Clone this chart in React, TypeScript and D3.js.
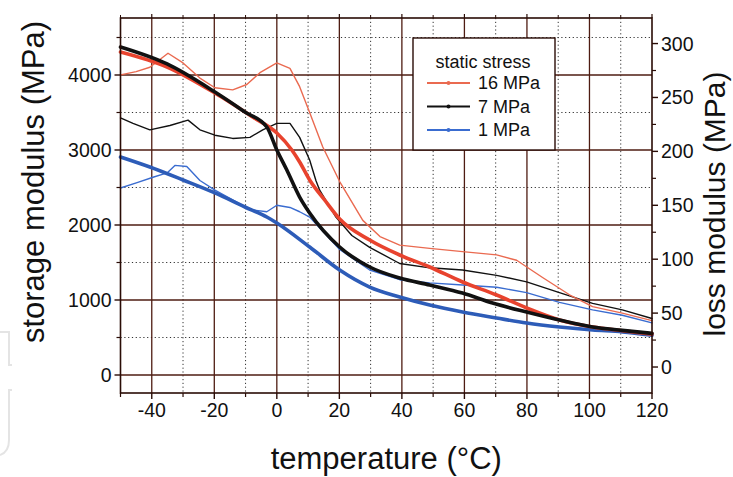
import React from "react";
import * as d3 from "d3";

// ---------- data ----------
const xTicksMajor = [-40, -20, 0, 20, 40, 60, 80, 100, 120];
const xTicksMinor = [-50, -30, -10, 10, 30, 50, 70, 90, 110];
const yLeftMajor = [0, 1000, 2000, 3000, 4000];
const yLeftMinor = [500, 1500, 2500, 3500, 4500];
const yRightMajor = [0, 50, 100, 150, 200, 250, 300];
const yRightMinor = [25, 75, 125, 175, 225, 275];

const legendTitle = "static stress";
const seriesNames = ["16 MPa", "7 MPa", "1 MPa"];

// storage modulus (MPa) — left axis, thick lines
const storage16T = [-50, -35.1, -19.8, -7.7, 0, 4.8, 7.3, 10.5, 15.3, 20.1, 29.7, 39.3, 48.9, 59.4, 70.3, 79.9, 90.4, 101, 110.5, 120];
const storage16 = [4307, 4107, 3760, 3440, 3227, 3000, 2840, 2600, 2333, 2080, 1800, 1600, 1440, 1240, 1067, 893, 733, 640, 590, 545];

const storage7T = [-50, -35.1, -19.8, -10.2, -3.2, 0, 3.2, 7.3, 10.5, 20.1, 29.7, 39.3, 48.9, 59.4, 69, 79.9, 90.4, 101, 110.5, 120];
const storage7 = [4373, 4147, 3773, 3507, 3307, 3000, 2733, 2373, 2160, 1707, 1440, 1293, 1200, 1093, 960, 840, 733, 640, 595, 555];

const storage1T = [-50, -40.6, -30, -19.8, -10.2, -3.2, 0, 10.5, 20.1, 29.7, 39.3, 48.9, 59.4, 70.3, 79.9, 90.4, 101, 110.5, 120];
const storage1 = [2907, 2773, 2600, 2427, 2240, 2107, 2027, 1707, 1400, 1173, 1040, 933, 840, 760, 693, 640, 600, 575, 530];

// loss modulus (MPa) — right axis, thin lines
const loss16T = [-50, -45, -40.6, -34.8, -30, -24.6, -19.8, -14.1, -9.6, -5.4, 0, 4.2, 7.3, 10.5, 14.7, 20.1, 27.5, 33, 39.3, 48.9, 59.4, 70.3, 76.7, 85, 93.6, 101, 110.5, 120];
const loss16 = [271, 274, 278, 291, 282, 268, 259, 257, 262, 273, 282, 277, 260, 236, 204, 172, 136, 121, 113, 110, 107, 104, 99, 83, 67, 56, 50, 43];

const loss7T = [-50, -46, -40.6, -34.2, -28.4, -24.6, -19.8, -14.1, -8.6, -4.5, 0, 4.2, 7.3, 10.5, 12.5, 13.7, 18.9, 24, 29.7, 39.3, 48.9, 59.4, 70.3, 79.9, 90.4, 101, 110.5, 120];
const loss7 = [231, 226, 220, 224, 229, 220, 215, 212, 213, 220, 226, 226, 213, 192, 173, 164, 139, 122, 111, 96, 92, 90, 85, 79, 69, 59, 53, 45];

const loss1T = [-50, -44.7, -39.6, -35.1, -32.6, -28.8, -24.6, -19.8, -14.1, -8.6, -3.2, 0, 4.2, 7.3, 10.5, 20.1, 29.7, 39.3, 48.9, 59.4, 70.3, 79.9, 90.4, 101, 110.5, 120];
const loss1 = [166, 171, 176, 180, 187, 186, 173, 164, 155, 146, 144, 150, 148, 144, 139, 109, 90, 81, 78, 76, 74, 69, 60, 53, 48, 41];

// ---------- styling ----------
const W = 733;
const H = 477;
const FONT = "'Liberation Sans', Arial, Helvetica, sans-serif";
const frameColor = "#2a0c06";
const gridColor = "#4e1c12";
const dotColor = "#333";
const red = "#e8432e";
const redThin = "#ea6a50";
const black = "#111111";
const blue = "#2d5cb8";
const blueThin = "#3a6cd0";

export default function App() {
  const x = d3.scaleLinear().domain([-50, 120]).range([120.5, 652]);
  const yL = d3.scaleLinear().domain([-240, 4760]).range([393, 18]);
  const yR = d3.scaleLinear().domain([-24.1, 323.7]).range([393, 18]);

  const left = x(-50);
  const right = x(120);
  const top = yL(4760);
  const bottom = yL(-240);

  const mk = (ts: number[], vs: number[], ys: d3.ScaleLinear<number, number>, curve: d3.CurveFactory) =>
    d3
      .line<number>()
      .x((_, i) => x(ts[i]))
      .y((v) => ys(v))
      .curve(curve)(vs) as string;

  const thin = [
    { d: mk(loss1T, loss1, yR, d3.curveLinear), c: blueThin },
    { d: mk(loss7T, loss7, yR, d3.curveLinear), c: black },
    { d: mk(loss16T, loss16, yR, d3.curveLinear), c: redThin },
  ];
  const thick = [
    { d: mk(storage1T, storage1, yL, d3.curveMonotoneX), c: blue },
    { d: mk(storage16T, storage16, yL, d3.curveMonotoneX), c: red },
    { d: mk(storage7T, storage7, yL, d3.curveMonotoneX), c: black },
  ];

  const legendColors = [redThin, black, blueThin];

  return (
    <svg
      width={W}
      height={H}
      viewBox={`0 0 ${W} ${H}`}
      style={{ position: "absolute", left: 0, top: 0, background: "#fff" }}
      fontFamily={FONT}
    >
      <rect x={0} y={0} width={W} height={H} fill="#fff" />
      {/* faint watermark brackets */}
      <path d="M0,332 H9 V365 H12" fill="none" stroke="#e4e4e4" strokeWidth={2} />
      <path d="M12,390 H9 V440 Q9,452 0,455" fill="none" stroke="#e4e4e4" strokeWidth={2} />

      {/* grid */}
      {xTicksMinor
        .filter((t) => t > -50)
        .map((t) => (
          <line key={"gxm" + t} x1={x(t)} x2={x(t)} y1={top} y2={bottom} stroke={dotColor} strokeWidth={1} strokeDasharray="1.2,2.6" />
        ))}
      {yLeftMinor.map((v) => (
        <line key={"gym" + v} x1={left} x2={right} y1={yL(v)} y2={yL(v)} stroke={dotColor} strokeWidth={1} strokeDasharray="1.2,2.6" />
      ))}
      {xTicksMajor
        .filter((t) => t < 120)
        .map((t) => (
          <line key={"gx" + t} x1={x(t)} x2={x(t)} y1={top} y2={bottom} stroke={gridColor} strokeWidth={1.3} />
        ))}
      {yLeftMajor.map((v) => (
        <line key={"gy" + v} x1={left} x2={right} y1={yL(v)} y2={yL(v)} stroke={gridColor} strokeWidth={1.3} />
      ))}

      {/* curves */}
      <g fill="none" strokeLinejoin="round" strokeLinecap="round">
        {thin.map((s, i) => (
          <path key={"t" + i} d={s.d} stroke={s.c} strokeWidth={1.4} />
        ))}
        {thick.map((s, i) => (
          <path key={"T" + i} d={s.d} stroke={s.c} strokeWidth={3.6} />
        ))}
      </g>

      {/* frame */}
      <rect x={left} y={top} width={right - left} height={bottom - top} fill="none" stroke={frameColor} strokeWidth={1.6} />

      {/* left axis ticks */}
      {yLeftMajor.map((v) => (
        <g key={"yl" + v}>
          <line x1={left - 6} x2={left} y1={yL(v)} y2={yL(v)} stroke={frameColor} strokeWidth={1.4} />
          <text x={left - 9} y={yL(v)} dy="0.36em" textAnchor="end" fontSize={19.5} fill="#111">
            {v}
          </text>
        </g>
      ))}
      {yLeftMinor.map((v) => (
        <line key={"ylm" + v} x1={left - 4} x2={left} y1={yL(v)} y2={yL(v)} stroke={frameColor} strokeWidth={1.2} />
      ))}

      {/* right axis ticks */}
      {yRightMajor.map((v) => (
        <g key={"yr" + v}>
          <line x1={right} x2={right + 6} y1={yR(v)} y2={yR(v)} stroke={frameColor} strokeWidth={1.4} />
          <text x={right + 9} y={yR(v)} dy="0.36em" textAnchor="start" fontSize={19.5} fill="#111">
            {v}
          </text>
        </g>
      ))}
      {yRightMinor.map((v) => (
        <line key={"yrm" + v} x1={right} x2={right + 4} y1={yR(v)} y2={yR(v)} stroke={frameColor} strokeWidth={1.2} />
      ))}

      {/* bottom / top ticks */}
      {xTicksMajor.map((t) => (
        <g key={"xb" + t}>
          <line x1={x(t)} x2={x(t)} y1={bottom} y2={bottom + 6} stroke={frameColor} strokeWidth={1.4} />
          <line x1={x(t)} x2={x(t)} y1={top} y2={top - 4} stroke={frameColor} strokeWidth={1.2} />
          <text x={x(t)} y={bottom + 24} textAnchor="middle" fontSize={19.5} fill="#111">
            {t}
          </text>
        </g>
      ))}
      {xTicksMinor.map((t) => (
        <g key={"xbm" + t}>
          <line x1={x(t)} x2={x(t)} y1={bottom} y2={bottom + 4} stroke={frameColor} strokeWidth={1.2} />
          <line x1={x(t)} x2={x(t)} y1={top} y2={top - 3} stroke={frameColor} strokeWidth={1} />
        </g>
      ))}

      {/* axis titles */}
      <text x={(left + right) / 2} y={469} textAnchor="middle" fontSize={31} fill="#111">
        temperature (°C)
      </text>
      <text transform="translate(33,182) rotate(-90)" textAnchor="middle" dy="0.35em" fontSize={31} fill="#111">
        storage modulus (MPa)
      </text>
      <text transform="translate(714,204) rotate(-90)" textAnchor="middle" dy="0.35em" fontSize={30} fill="#111">
        loss modulus (MPa)
      </text>

      {/* legend */}
      <g>
        <rect x={413} y={38} width={142} height={112} fill="#fff" stroke={frameColor} strokeWidth={1.4} />
        <text x={483} y={62} dy="0.35em" textAnchor="middle" fontSize={18} fill="#111">
          {legendTitle}
        </text>
        {seriesNames.map((n, i) => {
          const yy = 83 + i * 23.5;
          return (
            <g key={n}>
              <line x1={427} x2={470} y1={yy} y2={yy} stroke={legendColors[i]} strokeWidth={1.8} />
              <circle cx={448.5} cy={yy} r={2} fill={legendColors[i]} />
              <text x={478} y={yy} dy="0.36em" fontSize={18} fill="#111">
                {n}
              </text>
            </g>
          );
        })}
      </g>
    </svg>
  );
}
